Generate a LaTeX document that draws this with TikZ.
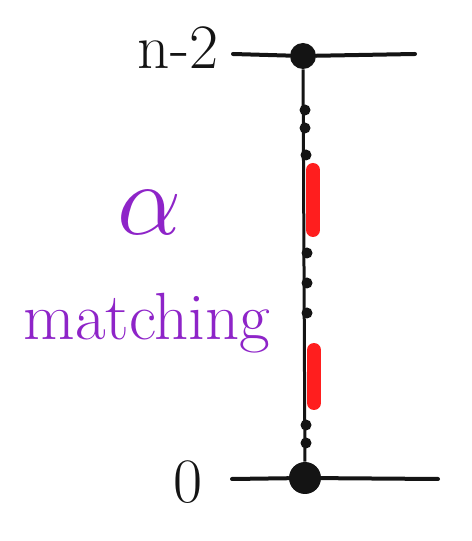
\documentclass[tikz,border=0pt]{standalone}
\usepackage{xcolor}
\usepackage{tikz}
\definecolor{MPurple}{HTML}{8E24C8}
\definecolor{MRed}{HTML}{FF1E1E}
\definecolor{MInk}{HTML}{141414}
\tikzset{
  bigdot/.style={circle,fill=MInk,inner sep=0pt,minimum size=#1},
  smalldot/.style={circle,fill=MInk,inner sep=0pt,minimum size=0.22cm},
  rail/.style={MInk,line width=0.08cm,line cap=round},
  redbar/.style={MRed,line width=0.28cm,line cap=round}
}

\begin{document}
\begin{tikzpicture}[x=0.02cm,y=0.02cm]
\path[use as bounding box] (0,0) rectangle (472,541);
% levels
\coordinate (topL) at (233,487);
\coordinate (topR) at (415,487);
\coordinate (botL) at (232,62);
\coordinate (botR) at (438,62);
\node[bigdot=0.52cm] (top) at (303,485) {};
\node[bigdot=0.64cm] (bot) at (305,63) {};
\draw[rail] (topL) -- (top) -- (topR);
\draw[rail] (botL) -- (bot) -- (botR);
\draw[MInk,line width=0.06cm] (top) -- (bot);
% small dots on the chain
\node[smalldot] (d1) at (305,431) {};
\node[smalldot] (d2) at (305,413) {};
\node[smalldot] (d3) at (306,386) {};
\node[smalldot] (d4) at (307,288) {};
\node[smalldot] (d5) at (307,258) {};
\node[smalldot] (d6) at (307,228) {};
\node[smalldot] (d7) at (306,116) {};
\node[smalldot] (d8) at (306,98) {};
% matched edges
\coordinate (r1a) at (313,371);
\coordinate (r1b) at (313,311);
\coordinate (r2a) at (314,191);
\coordinate (r2b) at (314,138);
\draw[redbar] (r1a) -- (r1b);
\draw[redbar] (r2a) -- (r2b);
% labels
\node[MInk] (ltop) at (178,493) {\fontsize{36}{40}\selectfont n-2};
\node[MInk] (lbot) at (188,59) {\fontsize{36}{40}\selectfont 0};
\node[MPurple] (alpha) at (150,328) {\scalebox{2.8}{\fontsize{20}{24}\selectfont$\alpha$}};
\node[MPurple,anchor=base] (match) at (147,201) {\fontsize{38}{44}\selectfont matching};
\end{tikzpicture}
\end{document}
